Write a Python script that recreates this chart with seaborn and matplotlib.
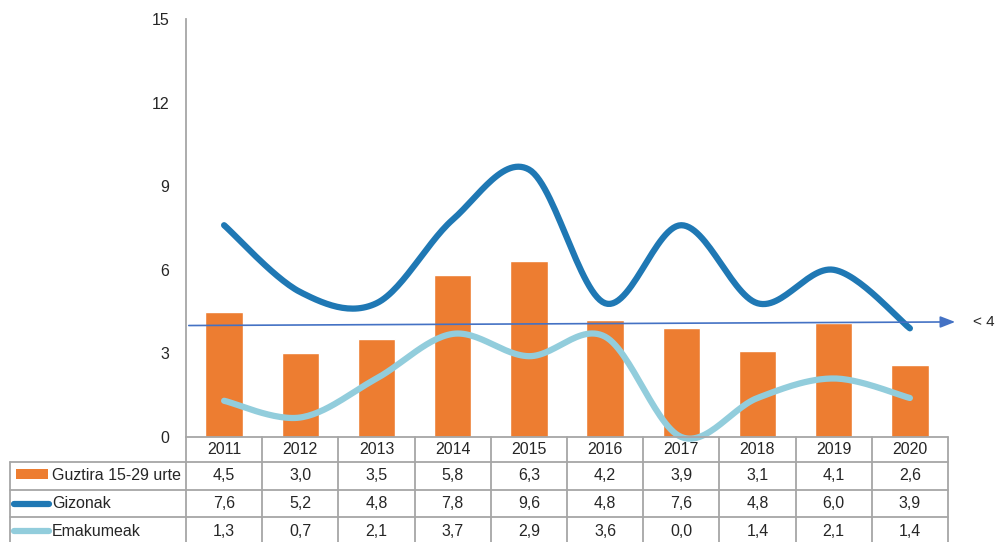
import numpy as np
import pandas as pd
import matplotlib
matplotlib.use("Agg")
import matplotlib.pyplot as plt
import seaborn as sns

years = ["2011", "2012", "2013", "2014", "2015", "2016", "2017", "2018", "2019", "2020"]
guztira = [4.5, 3.0, 3.5, 5.8, 6.3, 4.2, 3.9, 3.1, 4.1, 2.6]
gizonak = [7.6, 5.2, 4.8, 7.8, 9.6, 4.8, 7.6, 4.8, 6.0, 3.9]
emakumeak = [1.3, 0.7, 2.1, 3.7, 2.9, 3.6, 0.0, 1.4, 2.1, 1.4]
series_names = ["Guztira 15-29 urte", "Gizonak", "Emakumeak"]
ref_value = 4
ref_label = "< 4"
yticks = [0, 3, 6, 9, 12, 15]

ORANGE = "#ED7D31"
DARK_BLUE = "#1F78B4"
LIGHT_BLUE = "#92CDDC"
GRID = "#A6A6A6"
FS = 11.5


def smooth(xs, ys, n=30):
    # Excel-like smoothed line (Catmull-Rom through the points, as cubic Bezier)
    xs = np.asarray(xs, float)
    ys = np.asarray(ys, float)
    P = np.column_stack([xs, ys])
    P = np.vstack([P[0], P, P[-1]])
    out = []
    t = np.linspace(0, 1, n)[:, None]
    for i in range(1, len(P) - 2):
        p0, p1, p2, p3 = P[i - 1], P[i], P[i + 1], P[i + 2]
        c1 = p1 + (p2 - p0) / 6
        c2 = p2 - (p3 - p1) / 6
        seg = (1 - t) ** 3 * p1 + 3 * (1 - t) ** 2 * t * c1 + 3 * (1 - t) * t ** 2 * c2 + t ** 3 * p2
        out.append(seg if i == 1 else seg[1:])
    out = np.vstack(out)
    return out[:, 0], out[:, 1]


sns.set_style("white")
plt.rcParams["font.family"] = ["Liberation Sans", "DejaVu Sans"]

fig = plt.figure(figsize=(9.99, 5.42), dpi=100)
W, H = 999, 542
ax_l, ax_r, ax_t, ax_b = 186, 948, 19, 437
ax = fig.add_axes([ax_l / W, 1 - ax_b / H, (ax_r - ax_l) / W, (ax_b - ax_t) / H])

df = pd.DataFrame({"year": years, "value": guztira})
sns.barplot(data=df, x="year", y="value", color=ORANGE, width=0.49, saturation=1, ax=ax)

x = np.arange(len(years))
sx, sy = smooth(x, gizonak)
ax.plot(sx, sy, color=DARK_BLUE, lw=4.5, solid_capstyle="round", zorder=3)
sx, sy = smooth(x, emakumeak)
ax.plot(sx, sy, color=LIGHT_BLUE, lw=4.5, solid_capstyle="round", zorder=3, clip_on=False)

ax.annotate("", xy=(9.63, 4.13), xytext=(-0.5, 4.0), xycoords="data",
            arrowprops=dict(arrowstyle="-|>,head_length=0.9,head_width=0.35", color="#4472C4", lw=1.2),
            annotation_clip=False, zorder=4)
ax.text(9.83, 4.13, ref_label, fontsize=FS - 0.5, va="center", ha="left", clip_on=False)

ax.set_xlim(-0.5, len(years) - 0.5)
ax.set_ylim(0, 15)
ax.set_yticks(yticks)
ax.set_yticklabels([str(v) for v in yticks], fontsize=FS)
ax.tick_params(axis="y", length=0, pad=12)
ax.set_xticks([])
ax.set_xlabel("")
ax.set_ylabel("")
for s in ["top", "right", "bottom"]:
    ax.spines[s].set_visible(False)
ax.spines["left"].set_color(GRID)
ax.spines["left"].set_linewidth(1.3)

# data table below the chart
tb_l = 10
tab = fig.add_axes([tb_l / W, 0, (ax_r - tb_l) / W, (H - ax_b) / H])
cw = (ax_r - ax_l) / len(years)
lab_w = (ax_l - tb_l) / cw
tab.set_xlim(-0.5 - lab_w, len(years) - 0.5)
tab.set_ylim(H - ax_b, 0)
tab.axis("off")

rows_y = [0, 25, 53, 80, 108]
lw = 1.3
tab.plot([-0.5, len(years) - 0.5], [0, 0], color=GRID, lw=lw, clip_on=False)
for yy in rows_y[1:4]:
    tab.plot([-0.5 - lab_w, len(years) - 0.5], [yy, yy], color=GRID, lw=lw, clip_on=False)
for i in range(len(years) + 1):
    tab.plot([i - 0.5, i - 0.5], [0, 110], color=GRID, lw=lw, clip_on=False)
tab.plot([-0.5 - lab_w + 0.005, -0.5 - lab_w + 0.005], [25, 110], color=GRID, lw=lw, clip_on=False)

for i, yr in enumerate(years):
    tab.text(i, 12.5, yr, ha="center", va="center", fontsize=FS)

values = [guztira, gizonak, emakumeak]
centers = [39, 66.5, 94]
for vals, cy in zip(values, centers):
    for i, v in enumerate(vals):
        tab.text(i, cy, f"{v:.1f}".replace(".", ","), ha="center", va="center", fontsize=FS)

# legend keys inside the label column
x0 = -0.5 - lab_w
tab.add_patch(plt.Rectangle((x0 + 6 / cw, 36 - 4.5 + 0.0), 32 / cw, 10, color=ORANGE, lw=0))
tab.plot([x0 + 4 / cw, x0 + 39 / cw], [67, 67], color=DARK_BLUE, lw=4.5, solid_capstyle="round")
tab.plot([x0 + 4 / cw, x0 + 39 / cw], [94, 94], color=LIGHT_BLUE, lw=4.5, solid_capstyle="round")
for name, cy in zip(series_names, centers):
    tab.text(x0 + 42 / cw, cy, name, ha="left", va="center", fontsize=FS)

fig.savefig("out.png", dpi=100)
